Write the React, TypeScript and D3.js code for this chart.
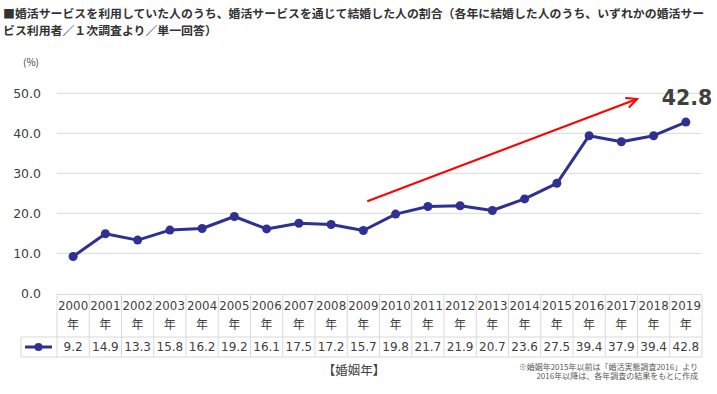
import React from "react";
import * as d3 from "d3";

const years = ["2000","2001","2002","2003","2004","2005","2006","2007","2008","2009","2010","2011","2012","2013","2014","2015","2016","2017","2018","2019"];
const values = [9.2,14.9,13.3,15.8,16.2,19.2,16.1,17.5,17.2,15.7,19.8,21.7,21.9,20.7,23.6,27.5,39.4,37.9,39.4,42.8];
const yTicks = [0,10,20,30,40,50];
const titleLines = [
  "■婚活サービスを利用していた人のうち、婚活サービスを通じて結婚した人の割合（各年に結婚した人のうち、いずれかの婚活サー",
  "ビス利用者／１次調査より／単一回答）",
];
const noteLines = ["※婚姻年2015年以前は「婚活実態調査2016」より", "2016年以降は、各年調査の結果をもとに作成"];
const xAxisTitle = "【婚姻年】";
const highlight = "42.8";

export default function App() {
  const W = 717, H = 394;
  const left = 57, right = 702;
  const x = d3.scaleBand<string>().domain(years).range([left, right]).padding(0);
  const y = d3.scaleLinear().domain([0, 50]).range([293.3, 93.3]);
  const cx = (yr: string) => (x(yr) as number) + x.bandwidth() / 2;
  const line = d3.line<number>().x((_, i) => cx(years[i])).y((d) => y(d));
  const lineColor = "#2E3192";
  const grid = "#d9d9d9";
  const txt = "#404040";
  const jp = "'Noto Sans CJK JP', sans-serif";
  const num = "'DejaVu Sans', sans-serif";
  const tTop = 294.5, tMid = 337, tBot = 357, legLeft = 21;

  // arrow
  const ax1 = 368, ay1 = 201, ax2 = 637, ay2 = 99;
  const ang = Math.atan2(ay2 - ay1, ax2 - ax1);
  const hl = 11, ha = 0.45;
  const h1 = [ax2 - hl * Math.cos(ang - ha), ay2 - hl * Math.sin(ang - ha)];
  const h2 = [ax2 - hl * Math.cos(ang + ha), ay2 - hl * Math.sin(ang + ha)];

  return (
    <svg width={W} height={H} style={{ position: "absolute", left: 0, top: 0, background: "#fff" }}>
      {titleLines.map((t, i) => (
        <text key={i} x={3} y={18 + i * 17} fontFamily={jp} fontSize={11.9} fontWeight="bold" fill="#333">{t}</text>
      ))}
      <text x={31} y={66} textAnchor="middle" fontFamily={jp} fontSize={10} fill={txt}>(%)</text>
      {yTicks.map((t) => (
        <g key={t}>
          {t > 0 && <line x1={left} x2={right} y1={y(t)} y2={y(t)} stroke={grid} strokeWidth={1} />}
          <text x={41} y={y(t)} dy="0.35em" textAnchor="end" fontFamily={num} fontSize={12.5} fill={txt}>{t.toFixed(1)}</text>
        </g>
      ))}
      {/* table */}
      <g stroke={grid} strokeWidth={1} fill="none">
        <line x1={left} x2={right} y1={tTop} y2={tTop} />
        <line x1={legLeft} x2={right} y1={tMid} y2={tMid} />
        <line x1={legLeft} x2={right} y1={tBot} y2={tBot} />
        <line x1={legLeft} x2={legLeft} y1={tMid} y2={tBot} />
        {years.map((yr) => (
          <line key={yr} x1={x(yr)} x2={x(yr)} y1={tTop} y2={tBot} />
        ))}
        <line x1={right} x2={right} y1={tTop} y2={tBot} />
      </g>
      {years.map((yr, i) => (
        <g key={yr}>
          <text x={cx(yr)} y={306} dy="0.35em" textAnchor="middle" fontFamily={num} fontSize={11.8} fill={txt}>{yr}</text>
          <text x={cx(yr)} y={325} dy="0.35em" textAnchor="middle" fontFamily={jp} fontSize={12} fill={txt}>年</text>
          <text x={cx(yr)} y={347} dy="0.35em" textAnchor="middle" fontFamily={num} fontSize={12} fill={txt}>{values[i].toFixed(1)}</text>
        </g>
      ))}
      <line x1={25} x2={52} y1={347} y2={347} stroke={lineColor} strokeWidth={3} />
      <circle cx={38.5} cy={347} r={4} fill={lineColor} />
      {/* series */}
      <path d={line(values) || ""} fill="none" stroke={lineColor} strokeWidth={3} strokeLinejoin="round" />
      {values.map((v, i) => (
        <circle key={i} cx={cx(years[i])} cy={y(v)} r={4.5} fill={lineColor} />
      ))}
      {/* arrow */}
      <g stroke="#ff0000" strokeWidth={2} fill="none" strokeLinecap="round">
        <line x1={ax1} y1={ay1} x2={ax2} y2={ay2} />
        <polyline points={`${h1[0]},${h1[1]} ${ax2},${ay2} ${h2[0]},${h2[1]}`} />
      </g>
      <text x={687} y={105} textAnchor="middle" fontFamily={num} fontSize={20.5} fontWeight="bold" fill={txt}>{highlight}</text>
      <text x={354} y={371} dy="0.35em" textAnchor="middle" fontFamily={jp} fontSize={12.5} fill={txt}>{xAxisTitle}</text>
      {noteLines.map((t, i) => (
        <text key={i} x={698} y={367 + i * 9.5} dy="0.35em" textAnchor="end" fontFamily={jp} fontSize={8} fill="#595959">{t}</text>
      ))}
    </svg>
  );
}
